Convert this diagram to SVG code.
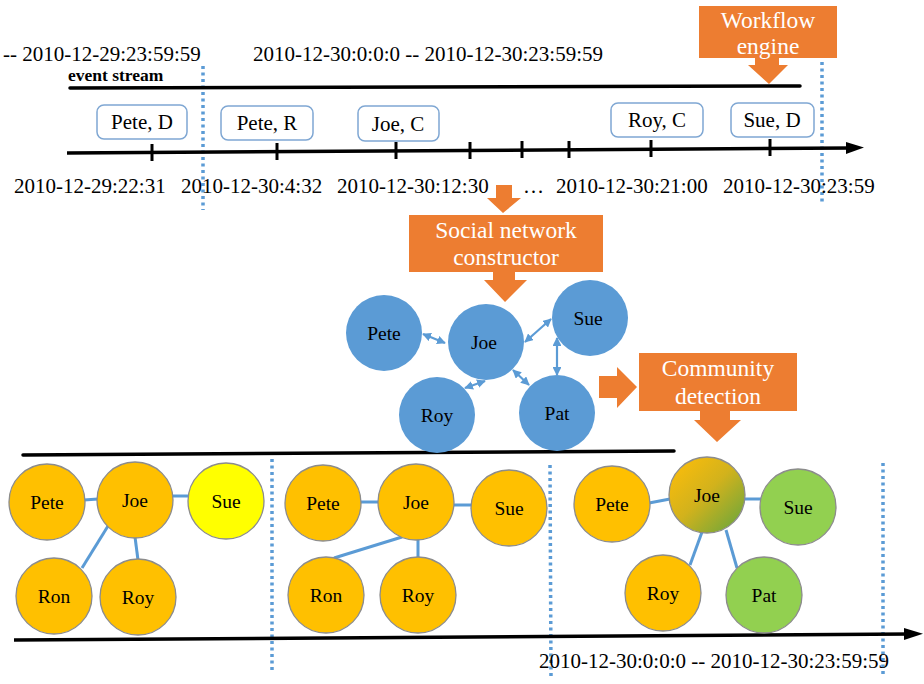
<svg xmlns="http://www.w3.org/2000/svg" width="924" height="684" viewBox="0 0 924 684">
  <defs>
    <style>
      text { font-family: 'Liberation Serif', 'DejaVu Serif', serif; fill: #000; }
      .date { font-size: 21px; }
      .ev { font-size: 21px; text-anchor: middle; }
      .lbl { font-size: 19.5px; text-anchor: middle; }
      text.btxt { font-size: 23.5px; fill: #fff; text-anchor: middle; }
      .axis { stroke: #000; stroke-width: 3.5; fill: none; stroke-linecap: round; }
      .tick { stroke: #000; stroke-width: 3; }
      .dot { stroke: #5B9BD5; stroke-width: 3.5; stroke-dasharray: 3 3.5; fill: none; }
      .evbox { fill: #fff; stroke: #7FA7D3; stroke-width: 1.5; }
      .orange { fill: #ED7D31; }
      .bnode { fill: #5B9BD5; }
      .onode { fill: #FFC000; stroke: #8C8C8C; stroke-width: 1.3; }
      .ynode { fill: #FFFF00; stroke: #8C8C8C; stroke-width: 1.3; }
      .gnode { fill: #92D050; stroke: #8C8C8C; stroke-width: 1.3; }
      .edge { stroke: #5B9BD5; stroke-width: 3; fill: none; }
      .link { stroke: #5B9BD5; stroke-width: 2.2; fill: none; marker-start: url(#ah); marker-end: url(#ah); }
    </style>
    <marker id="ah" viewBox="0 0 10 10" refX="9" refY="5" markerWidth="4" markerHeight="4" orient="auto-start-reverse">
      <path d="M0,0 L10,5 L0,10 Z" fill="#5B9BD5"/>
    </marker>
    <linearGradient id="joeGrad" x1="0.1" y1="0.1" x2="0.95" y2="0.95">
      <stop offset="0" stop-color="#F8BC0C"/>
      <stop offset="0.45" stop-color="#D2B21C"/>
      <stop offset="1" stop-color="#6AA63C"/>
    </linearGradient>
  </defs>

  <rect width="924" height="684" fill="#fff"/>

  <g font-family="Liberation Serif, DejaVu Serif, serif">
  <!-- time window labels -->
  <text class="date" x="3" y="61">-- 2010-12-29:23:59:59</text>
  <text class="date" x="253" y="61">2010-12-30:0:0:0 -- 2010-12-30:23:59:59</text>
  <text x="68" y="81" font-size="17.5" font-weight="bold">event stream</text>
  </g>

  <!-- window separators -->
  <g id="separators">
    <line class="dot" x1="203" y1="66" x2="203" y2="210"/>
    <line class="dot" x1="822" y1="62" x2="822" y2="202"/>
    <line class="dot" x1="272" y1="459" x2="272" y2="673"/>
    <line class="dot" x1="550" y1="465" x2="551" y2="677"/>
    <line class="dot" x1="883" y1="463" x2="883" y2="677"/>
  </g>

  <!-- axes and links -->
  <g id="connectors">
    <line class="axis" x1="70" y1="88" x2="800" y2="86"/>
    <line x1="67" y1="153" x2="852" y2="148" stroke="#000" stroke-width="3.5"/>
    <path d="M846,142 L864,147.5 L846,154 Z" fill="#000"/>
    <g class="tick">
      <line x1="152" y1="144" x2="152" y2="161"/>
      <line x1="277" y1="143" x2="277" y2="160"/>
      <line x1="396" y1="142" x2="396" y2="159"/>
      <line x1="470" y1="142" x2="470" y2="159"/>
      <line x1="522" y1="141" x2="522" y2="158"/>
      <line x1="569" y1="141" x2="569" y2="158"/>
      <line x1="651" y1="140" x2="651" y2="157"/>
      <line x1="770" y1="139" x2="770" y2="156"/>
    </g>
    <line class="axis" x1="23" y1="455" x2="674" y2="451"/>
    <line x1="14" y1="640" x2="910" y2="634" stroke="#000" stroke-width="3.5"/>
    <path d="M904,628 L923,633.8 L904,640 Z" fill="#000"/>

    <!-- links of the constructed network -->
    <line class="link" x1="423" y1="334" x2="445" y2="343"/>
    <line class="link" x1="525" y1="342" x2="551" y2="319"/>
    <line class="link" x1="557" y1="338" x2="557" y2="375"/>
    <line class="link" x1="485" y1="381" x2="465" y2="388"/>
    <line class="link" x1="513" y1="370" x2="529" y2="385"/>

    <!-- community edges -->
    <line class="edge" x1="84" y1="500" x2="98" y2="499"/>
    <line class="edge" x1="172" y1="496" x2="189" y2="496"/>
    <line class="edge" x1="108" y1="526" x2="82" y2="568"/>
    <line class="edge" x1="135" y1="537" x2="138" y2="560"/>
    <line class="edge" x1="360" y1="502" x2="380" y2="502"/>
    <line class="edge" x1="454" y1="505" x2="472" y2="505"/>
    <line class="edge" x1="402" y1="537" x2="334" y2="558"/>
    <line class="edge" x1="418" y1="539" x2="418" y2="558"/>
    <line class="edge" x1="649" y1="503" x2="670" y2="499"/>
    <line class="edge" x1="744" y1="499" x2="761" y2="499"/>
    <line class="edge" x1="702" y1="532" x2="690" y2="565"/>
    <line class="edge" x1="726" y1="530" x2="737" y2="568"/>
  </g>

  <!-- events -->
  <g id="ev-pete-d"><rect class="evbox" x="97" y="105" width="90" height="34" rx="7"/><text class="ev" x="142" y="129">Pete, D</text></g>
  <g id="ev-pete-r"><rect class="evbox" x="221" y="106" width="92" height="34" rx="7"/><text class="ev" x="267" y="130">Pete, R</text></g>
  <g id="ev-joe-c"><rect class="evbox" x="358" y="106" width="81" height="35" rx="7"/><text class="ev" x="398" y="131">Joe, C</text></g>
  <g id="ev-roy-c"><rect class="evbox" x="611" y="103" width="92" height="34" rx="7"/><text class="ev" x="657" y="127">Roy, C</text></g>
  <g id="ev-sue-d"><rect class="evbox" x="731" y="103" width="83" height="34" rx="7"/><text class="ev" x="772" y="127">Sue, D</text></g>

  <!-- event times -->
  <g id="times">
    <text class="date" x="14" y="193">2010-12-29:22:31</text>
    <text class="date" x="181" y="193">2010-12-30:4:32</text>
    <text class="date" x="337" y="193">2010-12-30:12:30</text>
    <text class="date" x="523" y="193">…</text>
    <text class="date" x="556" y="193">2010-12-30:21:00</text>
    <text class="date" x="723" y="193">2010-12-30:23:59</text>
  </g>

  <!-- workflow engine -->
  <g id="workflow-engine">
    <rect class="orange" x="699" y="6" width="138" height="52"/>
    <path class="orange" d="M755,58 H779 V65 H788 L769,84 L748,65 H755 Z"/>
    <text class="btxt" x="768" y="28">Workflow</text>
    <text class="btxt" x="768" y="54">engine</text>
  </g>

  <!-- social network constructor -->
  <g id="social-network-constructor">
    <path class="orange" d="M496,185 H512 V198 H521 L503,213 L487,198 H496 Z"/>
    <rect class="orange" x="409" y="215" width="194" height="57"/>
    <path class="orange" d="M493,272 H515 V280 H527 L505,302 L484,280 H493 Z"/>
    <text class="btxt" x="506" y="238">Social network</text>
    <text class="btxt" x="506" y="265">constructor</text>
  </g>

  <!-- constructed network -->
  <g id="net-pete"><circle class="bnode" cx="384" cy="333" r="38"/><text class="lbl" x="384" y="340">Pete</text></g>
  <g id="net-joe"><circle class="bnode" cx="486" cy="342" r="38"/><text class="lbl" x="484" y="349">Joe</text></g>
  <g id="net-sue"><circle class="bnode" cx="590" cy="318" r="38"/><text class="lbl" x="588" y="325">Sue</text></g>
  <g id="net-roy"><circle class="bnode" cx="437" cy="415" r="38"/><text class="lbl" x="437" y="422">Roy</text></g>
  <g id="net-pat"><circle class="bnode" cx="557" cy="413" r="38"/><text class="lbl" x="557" y="420">Pat</text></g>

  <!-- community detection -->
  <g id="community-detection">
    <path class="orange" d="M599,376 H617 V367 L637,387 L617,408 V398 H599 Z"/>
    <rect class="orange" x="639" y="353" width="158" height="58"/>
    <path class="orange" d="M700,411 H730 V420 H741 L717,442 L694,420 H700 Z"/>
    <text class="btxt" x="718" y="376">Community</text>
    <text class="btxt" x="718" y="404">detection</text>
  </g>

  <!-- communities, day 2010-12-29 -->
  <g id="c1-pete"><circle class="onode" cx="47" cy="502" r="38"/><text class="lbl" x="47" y="509">Pete</text></g>
  <g id="c1-joe"><circle class="onode" cx="135" cy="500" r="38"/><text class="lbl" x="135" y="507">Joe</text></g>
  <g id="c1-sue"><circle class="ynode" cx="226" cy="501" r="38"/><text class="lbl" x="226" y="508">Sue</text></g>
  <g id="c1-ron"><circle class="onode" cx="54" cy="596" r="38"/><text class="lbl" x="54" y="603">Ron</text></g>
  <g id="c1-roy"><circle class="onode" cx="138" cy="597" r="38"/><text class="lbl" x="138" y="604">Roy</text></g>

  <!-- communities, day 2010-12-30 (before update) -->
  <g id="c2-pete"><circle class="onode" cx="323" cy="503" r="38"/><text class="lbl" x="323" y="510">Pete</text></g>
  <g id="c2-joe"><circle class="onode" cx="416" cy="502" r="38"/><text class="lbl" x="416" y="509">Joe</text></g>
  <g id="c2-sue"><circle class="onode" cx="509" cy="508" r="38"/><text class="lbl" x="509" y="515">Sue</text></g>
  <g id="c2-ron"><circle class="onode" cx="326" cy="595" r="38"/><text class="lbl" x="326" y="602">Ron</text></g>
  <g id="c2-roy"><circle class="onode" cx="418" cy="595" r="38"/><text class="lbl" x="418" y="602">Roy</text></g>

  <!-- communities, day 2010-12-30 (after update) -->
  <g id="c3-pete"><circle class="onode" cx="612" cy="504" r="38"/><text class="lbl" x="612" y="511">Pete</text></g>
  <g id="c3-joe"><circle cx="707" cy="495" r="38" fill="url(#joeGrad)" stroke="#8C8C8C" stroke-width="1.3"/><text class="lbl" x="707" y="502">Joe</text></g>
  <g id="c3-sue"><circle class="gnode" cx="798" cy="507" r="38"/><text class="lbl" x="798" y="514">Sue</text></g>
  <g id="c3-roy"><circle class="onode" cx="663" cy="593" r="38"/><text class="lbl" x="663" y="600">Roy</text></g>
  <g id="c3-pat"><circle class="gnode" cx="764" cy="595" r="38"/><text class="lbl" x="764" y="602">Pat</text></g>

  <text class="date" x="539" y="668">2010-12-30:0:0:0 -- 2010-12-30:23:59:59</text>
</svg>
